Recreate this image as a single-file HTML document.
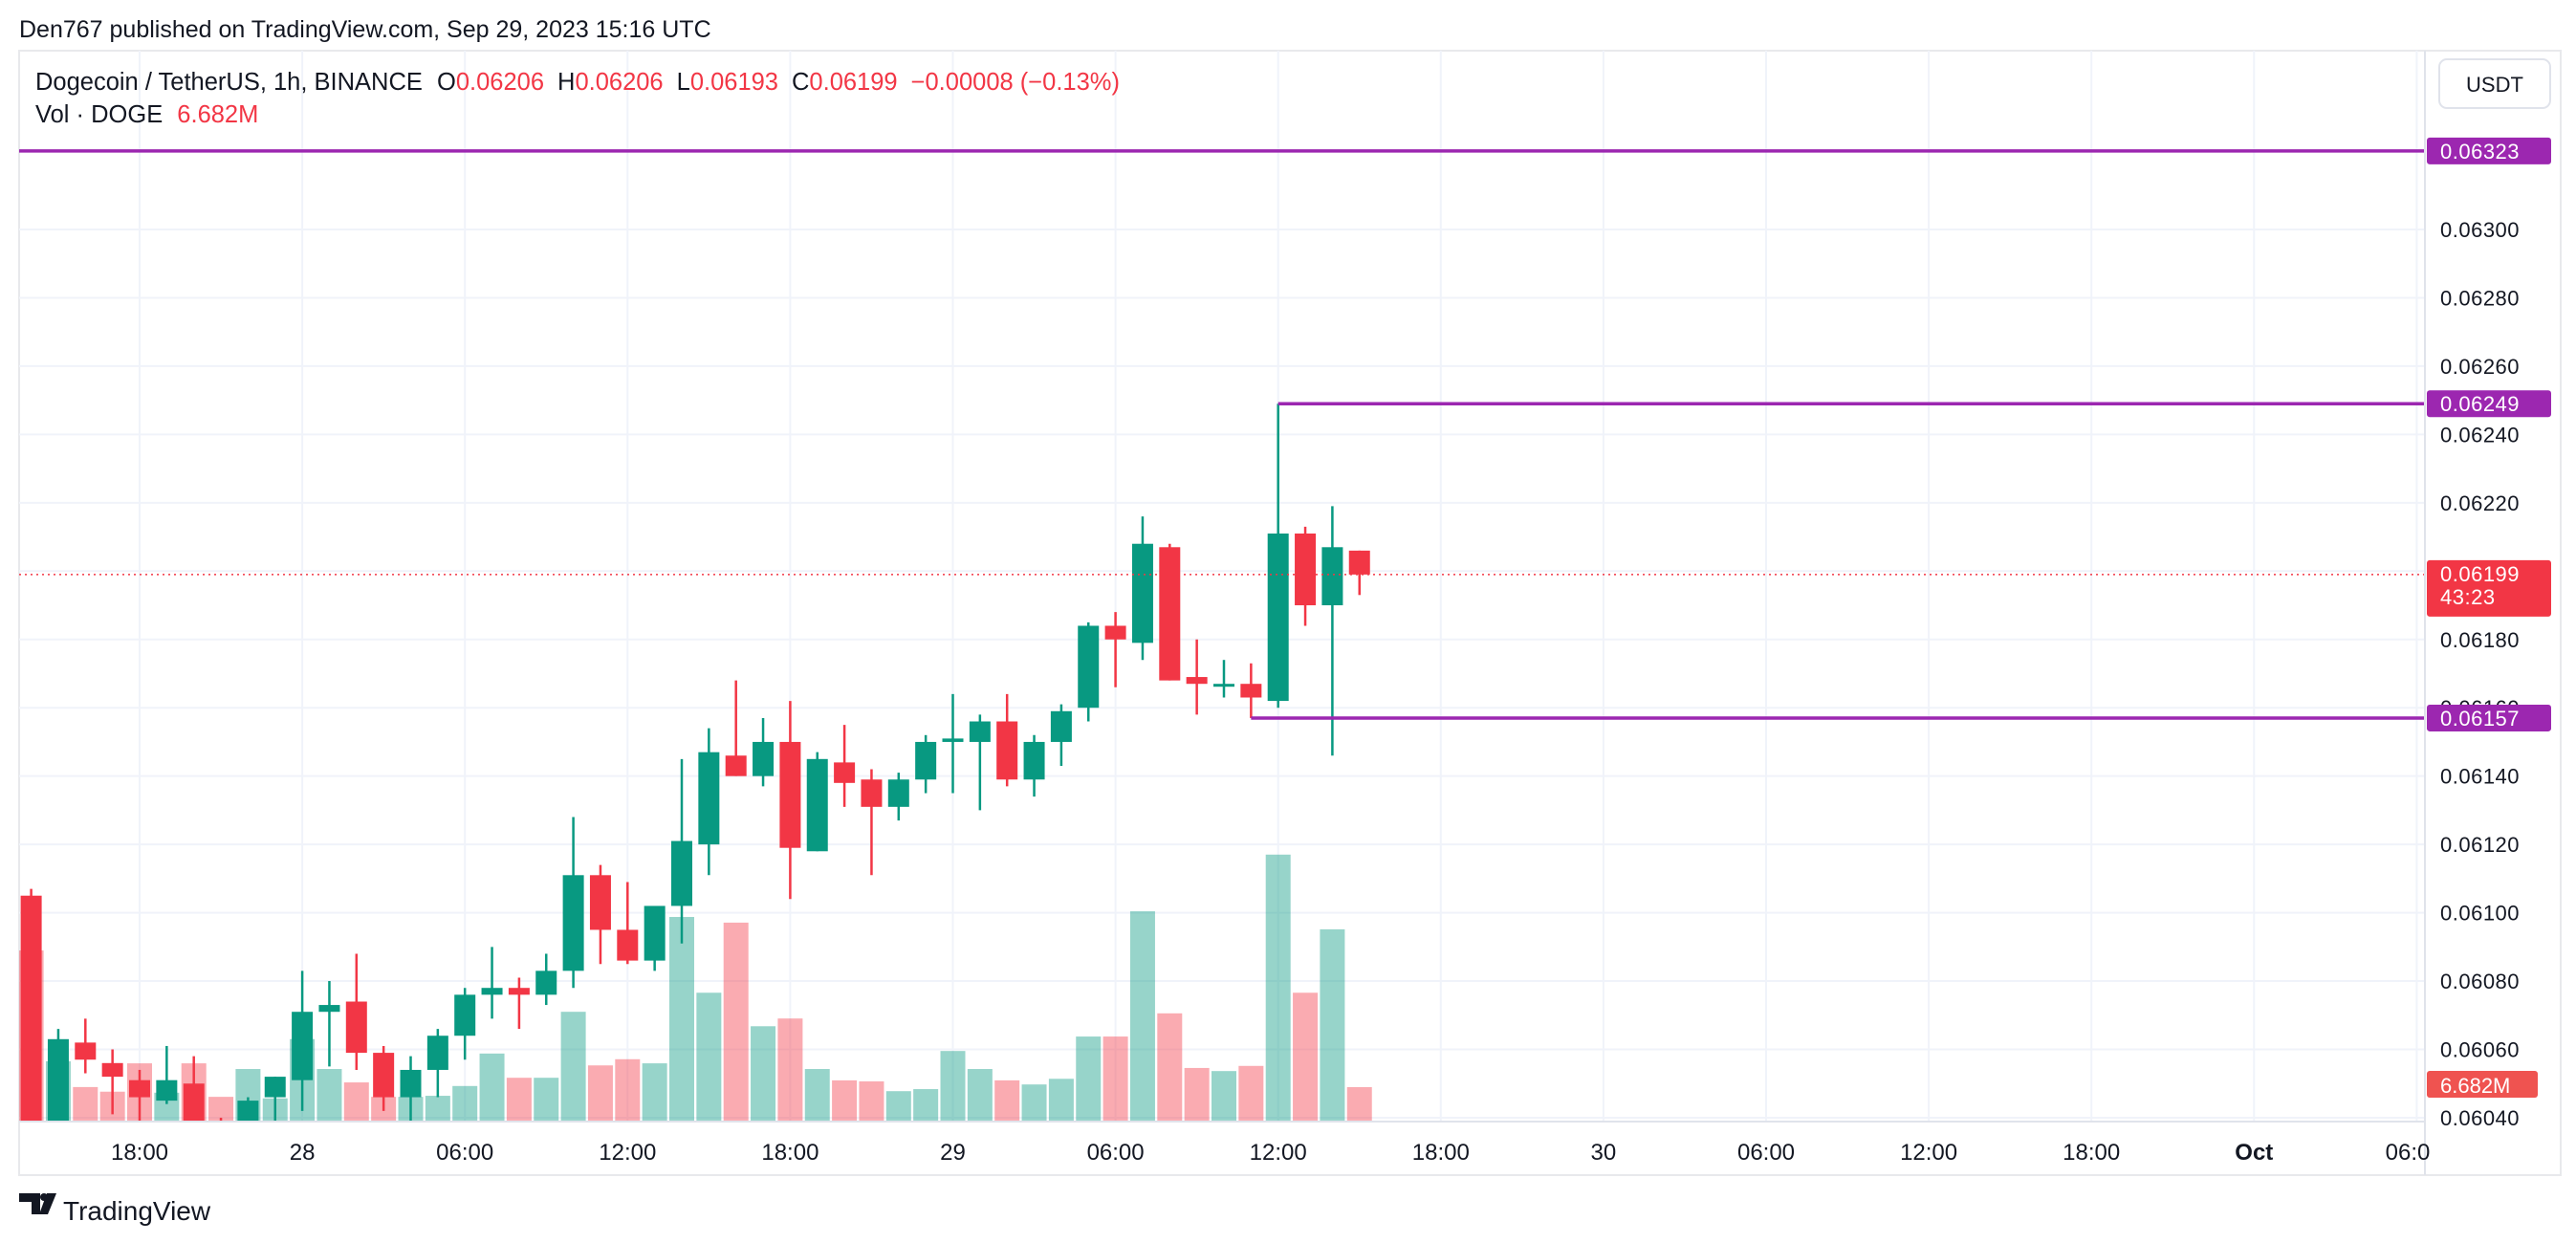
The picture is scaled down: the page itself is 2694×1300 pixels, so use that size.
<!DOCTYPE html>
<html><head><meta charset="utf-8"><style>
html,body{margin:0;padding:0;background:#fff;}
svg{display:block;font-family:"Liberation Sans",sans-serif;}
</style></head><body>
<svg id="chart" width="2694" height="1300" viewBox="0 0 2694 1300">
<text x="20" y="39" font-size="25" fill="#131722">Den767 published on TradingView.com, Sep 29, 2023 15:16 UTC</text>
<rect x="20" y="53" width="2658" height="1176" fill="#fff" stroke="#e8e9ec" stroke-width="2"/>
<g id="grid"></g>
<g id="vols"></g>
<g id="candles"></g>
<g id="levels"></g>
<line x1="2536" y1="53" x2="2536" y2="1229" stroke="#e0e3eb" stroke-width="2"/>
<line x1="20" y1="1173" x2="2536" y2="1173" stroke="#e0e3eb" stroke-width="2"/>
<g id="yaxis"></g>
<g id="xaxis"></g>
<g id="tags"></g>
<rect x="2551" y="62" width="116" height="51" rx="8" fill="#fff" stroke="#e0e3eb" stroke-width="2"/>
<text x="2609" y="96" font-size="22" text-anchor="middle" fill="#131722">USDT</text>
<text x="37" y="94" font-size="25.5" fill="#131722">Dogecoin / TetherUS, 1h, BINANCE <tspan dx="8">O</tspan><tspan fill="#f23645">0.06206</tspan><tspan dx="14">H</tspan><tspan fill="#f23645">0.06206</tspan><tspan dx="14">L</tspan><tspan fill="#f23645">0.06193</tspan><tspan dx="14">C</tspan><tspan fill="#f23645">0.06199</tspan><tspan dx="14" fill="#f23645">−0.00008 (−0.13%)</tspan></text>
<text x="37" y="128" font-size="25.5" fill="#131722">Vol · DOGE <tspan dx="8" fill="#f23645">6.682M</tspan></text>
<g>
<path d="M20 1248h22v22h-9v-13h-13z" fill="#131722"/><circle cx="46" cy="1252" r="4" fill="#131722"/><path d="M49 1248h10l-9 22h-9z" fill="#131722"/>
<text x="66" y="1276" font-size="28" fill="#131722">TradingView</text>
</g>
</svg>
<script>
const opens  =[0.06105,0.06039,0.06062,0.06056,0.06051,0.06045,0.06050,0.06039,0.06038,0.06046,0.06051,0.06071,0.06074,0.06059,0.06046,0.06054,0.06064,0.06076,0.06078,0.06076,0.06083,0.06111,0.06095,0.06086,0.06102,0.06120,0.06146,0.06140,0.06150,0.06118,0.06144,0.06139,0.06131,0.06139,0.06150,0.06150,0.06156,0.06139,0.06150,0.06160,0.06184,0.06179,0.06207,0.06169,0.06167,0.06167,0.06162,0.06211,0.06190,0.06206];
const highs  =[0.06107,0.06066,0.06069,0.06060,0.06054,0.06061,0.06058,0.06040,0.06046,0.06052,0.06083,0.06080,0.06088,0.06061,0.06058,0.06066,0.06078,0.06090,0.06081,0.06088,0.06128,0.06114,0.06109,0.06102,0.06145,0.06154,0.06168,0.06157,0.06162,0.06147,0.06155,0.06142,0.06141,0.06152,0.06164,0.06158,0.06164,0.06152,0.06161,0.06185,0.06188,0.06216,0.06208,0.06180,0.06174,0.06173,0.06249,0.06213,0.06219,0.06206];
const lows   =[0.06039,0.06039,0.06053,0.06041,0.06039,0.06044,0.06039,0.06035,0.06035,0.06038,0.06042,0.06055,0.06054,0.06042,0.06039,0.06046,0.06057,0.06069,0.06066,0.06073,0.06078,0.06085,0.06085,0.06083,0.06091,0.06111,0.06140,0.06137,0.06104,0.06118,0.06131,0.06111,0.06127,0.06135,0.06135,0.06130,0.06137,0.06134,0.06143,0.06156,0.06166,0.06174,0.06168,0.06158,0.06163,0.06157,0.06160,0.06184,0.06146,0.06193];
const closes =[0.06039,0.06063,0.06057,0.06052,0.06046,0.06051,0.06039,0.06038,0.06045,0.06052,0.06071,0.06073,0.06059,0.06046,0.06054,0.06064,0.06076,0.06078,0.06076,0.06083,0.06111,0.06095,0.06086,0.06102,0.06121,0.06147,0.06140,0.06150,0.06119,0.06145,0.06138,0.06131,0.06139,0.06150,0.06151,0.06156,0.06139,0.06150,0.06159,0.06184,0.06180,0.06208,0.06168,0.06167,0.06167,0.06163,0.06211,0.06190,0.06207,0.06199];
const volumes=[33.2,11.7,6.7,5.8,11.3,5.6,11.3,4.8,10.2,4.5,16,10.2,7.6,4.8,4.8,5.0,6.9,13.2,8.5,8.5,21.3,10.9,12.1,11.3,39.7,25,38.6,18.5,20,10.2,8,7.8,5.9,6.3,13.7,10.2,8,7.2,8.3,16.5,16.5,40.8,21,10.4,9.8,10.8,51.8,25,37.3,6.682];
const priceTicks=[0.0630,0.0628,0.0626,0.0624,0.0622,0.0620,0.0618,0.0616,0.0614,0.0612,0.0610,0.0608,0.0606,0.0604];
const timeTicks=[0,6,12,18,24,30,36,42,48,54,60,66,72,78,84];
const timeLabels=["18:00","28","06:00","12:00","18:00","29","06:00","12:00","18:00","30","06:00","12:00","18:00","Oct","06:0"];
const levels=[0.06323,0.06249,0.06157];
const levelStart=[null,46,45];
const startHour=-4;
const lastPrice=0.06199;

const NS="http://www.w3.org/2000/svg";
const X0=20,X1=2536,Y0=53,YB=1173;
function yP(p){return 240+(0.06300-p)*357300;}
function xH(h){return 146+28.35*h;}
function yV(v){return YB-v*5.39;}
function mk(tag,attrs,parent){const e=document.createElementNS(NS,tag);for(const k in attrs)e.setAttribute(k,attrs[k]);parent.appendChild(e);return e;}
const clip=mk('clipPath',{id:'plotclip'},document.getElementById('chart'));
mk('rect',{x:X0,y:Y0,width:X1-X0,height:YB-Y0},clip);
const grid=document.getElementById('grid');
priceTicks.forEach(p=>{const l=mk('line',{x1:X0,x2:X1,y1:yP(p),y2:yP(p),stroke:'#f0f3fa','stroke-width':2},grid);

});
timeTicks.forEach(h=>{if(xH(h)>X1)return;const l=mk('line',{x1:xH(h),x2:xH(h),y1:Y0,y2:YB,stroke:'#f0f3fa','stroke-width':2},grid);

});
const vg=document.getElementById('vols');vg.setAttribute('clip-path','url(#plotclip)');
const cg=document.getElementById('candles');cg.setAttribute('clip-path','url(#plotclip)');
volumes.forEach((v,i)=>{const up=closes[i]>=opens[i];const x=xH(startHour+i);
const r=mk('rect',{x:x-13,y:yV(v),width:26,height:YB-yV(v),fill:up?'rgba(8,153,129,0.42)':'rgba(242,54,69,0.42)'},vg);

});
opens.forEach((o,i)=>{const c=closes[i];const up=c>=o;const col=up?'#089981':'#f23645';const x=xH(startHour+i);
const w=mk('line',{x1:x,x2:x,y1:yP(highs[i]),y2:yP(lows[i]),stroke:col,'stroke-width':2.5},cg);


const t=yP(Math.max(o,c)),b=yP(Math.min(o,c));
const r=mk('rect',{x:x-11,y:t,width:22,height:Math.max(3,b-t),fill:col},cg);

});
const lg=document.getElementById('levels');
const dl=mk('line',{x1:X0,x2:X1,y1:yP(lastPrice),y2:yP(lastPrice),stroke:'#f23645','stroke-width':1.5,'stroke-dasharray':'2 4'},lg);


levels.forEach((p,i)=>{const xs=levelStart[i]===null?X0:xH(startHour+levelStart[i]);
const l=mk('line',{x1:xs,x2:X1,y1:yP(p),y2:yP(p),stroke:'#9c27b0','stroke-width':3.5},lg);

});
const ya=document.getElementById('yaxis');
priceTicks.forEach(p=>{const t=mk('text',{x:2552,y:yP(p)+8,'font-size':22,fill:'#131722','letter-spacing':'0.5'},ya);t.textContent=p.toFixed(5);

});
const xa=document.getElementById('xaxis');
timeTicks.forEach((h,i)=>{const t=mk('text',{x:Math.min(xH(h),2518),y:1213,'font-size':24,fill:'#131722','text-anchor':'middle','font-weight':timeLabels[i]==='Oct'?'bold':'normal'},xa);t.textContent=timeLabels[i];

});
const tg=document.getElementById('tags');
function tag(y,h,fill,lines){const r=mk('rect',{x:2538,y:y,width:130,height:h,fill:fill,rx:3},tg);


lines.forEach((s,j)=>{const t=mk('text',{x:2552,y:y+22+j*24,'font-size':22,fill:'#fff','letter-spacing':'0.5'},tg);t.textContent=s;});}
levels.forEach(p=>tag(yP(p)-14,28,'#9c27b0',[p.toFixed(5)]));
tag(yP(lastPrice)-15,59,'#f23645',[lastPrice.toFixed(5),'43:23']);
const vr=mk('rect',{x:2538,y:1120,width:116,height:28,fill:'#ef5350',rx:3},tg);


const vt=mk('text',{x:2552,y:1143,'font-size':22,fill:'#fff'},tg);vt.textContent=volumes[volumes.length-1].toFixed(3)+'M';
</script>
</body></html>
